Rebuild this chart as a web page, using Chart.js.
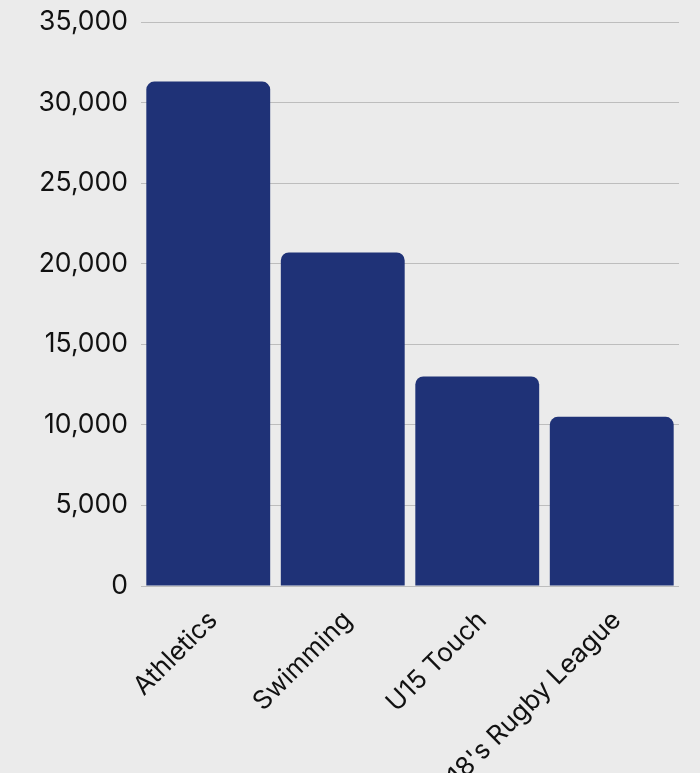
<!DOCTYPE html>
<html>
<head>
<meta charset="utf-8">
<script src="https://cdn.jsdelivr.net/npm/chart.js@4.4.1/dist/chart.umd.min.js"></script>
<style>
  html, body { margin: 0; padding: 0; background: #ebebeb; }
  #wrap { width: 700px; height: 773px; position: relative; }
</style>
</head>
<body>
<div id="wrap"><canvas id="c" width="700" height="773"></canvas></div>
<script>
const categories = ["Athletics", "Swimming", "U15 Touch", "U18's Rugby League"];
const participants = [31300, 20700, 13000, 10500];
const yTicks = [0, 5000, 10000, 15000, 20000, 25000, 30000, 35000];

const FONT = "Inter, 'Liberation Sans', Arial, sans-serif";

new Chart(document.getElementById('c'), {
  type: 'bar',
  data: {
    labels: categories,
    datasets: [{
      data: participants,
      backgroundColor: '#1f3277',
      borderRadius: 8,
      borderSkipped: 'start',
      barPercentage: 0.921,
      categoryPercentage: 1.0
    }]
  },
  options: {
    responsive: false,
    animation: false,
    layout: { padding: { top: 22, right: 21, left: 0, bottom: 0 } },
    plugins: { legend: { display: false }, tooltip: { enabled: false } },
    scales: {
      x: {
        grid: { display: false, drawTicks: false },
        border: { display: false },
        ticks: {
          minRotation: 45, maxRotation: 45,
          autoSkip: false,
          padding: 19,
          labelOffset: 5,
          color: '#111111',
          font: { family: FONT, size: 26 }
        },
        afterFit(scale) { scale.height = 187; scale.paddingLeft = 0; scale.paddingRight = 0; }
      },
      y: {
        min: 0, max: 35000,
        grid: { color: '#bdbdbd', lineWidth: 1, drawTicks: false },
        border: { display: false },
        afterBuildTicks(scale) { scale.ticks = yTicks.map(v => ({ value: v })); },
        ticks: {
          padding: 13,
          color: '#111111',
          font: { family: FONT, size: 26.5 },
          callback: v => Number(v).toLocaleString('en-US')
        },
        afterFit(scale) { scale.width = 141; scale.paddingTop = 0; scale.paddingBottom = 0; }
      }
    }
  }
});
</script>
</body>
</html>
